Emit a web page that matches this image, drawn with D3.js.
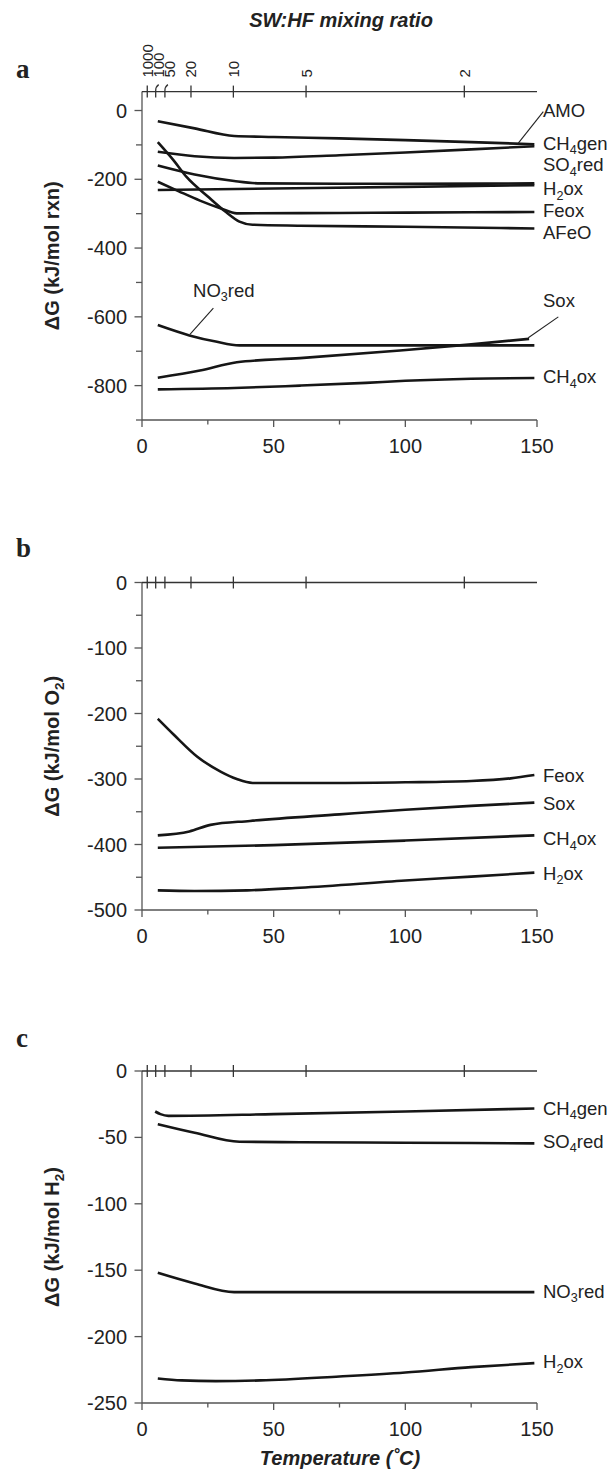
<!DOCTYPE html>
<html>
<head>
<meta charset="utf-8">
<script src="https://cdn.jsdelivr.net/npm/d3@7"></script>
<style>
body { margin: 0; background: #fff; }
svg { display: block; }
text { font-family: "Liberation Sans", Arial, Helvetica, sans-serif; fill: #222; }
</style>
</head>
<body>
<svg id="chart" width="613" height="1469"></svg>
<script>
// axe des températures (bas) et axe du mélange SW:HF (haut)
const tempTicks = [0, 25, 50, 75, 100, 125, 150];
const tempLabels = [0, 50, 100, 150];
const mixRatios = [1000, 100, 50, 20, 10, 5, 2];
const mixTemps = [2.0, 5.2, 8.7, 18.6, 34.7, 62.3, 122.4];

// panneau a : kJ/mol rxn  ([température, ΔG])
const aAMO = [[6, -31], [20, -52], [35, -74], [50, -77], [75, -81], [100, -86], [125, -92], [149, -98]];
const aCH4gen = [[6, -120], [20, -133], [35, -138], [50, -137], [75, -130], [100, -122], [125, -113], [149, -104]];
const aSO4red = [[6, -160], [20, -186], [35, -205], [45, -212], [75, -213], [100, -213], [149, -212]];
const aH2ox = [[6, -231], [50, -227], [100, -222], [149, -217]];
const aFeox = [[6, -207], [14, -235], [22, -262], [30, -285], [36, -299], [75, -298], [100, -297], [149, -295]];
const aAFeO = [[6, -92], [12, -145], [17, -194], [25, -250], [32, -296], [37, -323], [42, -332], [60, -335], [100, -338], [149, -343]];
const aNO3red = [[6, -624], [18, -654], [28, -672], [37, -683], [75, -683], [100, -683], [149, -683]];
const aSox = [[6, -777], [22, -756], [36, -732], [60, -720], [98, -698], [125, -680], [147, -664]];
const aCH4ox = [[6, -811], [35, -807], [60, -800], [85, -792], [100, -786], [125, -780], [149, -778]];

// panneau b : kJ/mol O2
const bFeox = [[6, -208], [12, -232], [21, -266], [30, -289], [36, -300], [42, -306], [75, -306], [100, -305], [125, -303], [140, -299], [149, -294]];
const bSox = [[6, -386], [18, -380], [26, -370], [41, -364], [75, -354], [100, -347], [125, -341], [149, -336]];
const bCH4ox = [[6, -405], [50, -401], [100, -394], [149, -386]];
const bH2ox = [[6, -470], [20, -471], [40, -470], [60, -466], [100, -455], [125, -449], [149, -443]];

// panneau c : kJ/mol H2
const cCH4gen = [[5, -30.5], [7, -32.5], [10, -33.8], [50, -32.5], [100, -30.5], [149, -28.2]];
const cSO4red = [[6, -40], [20, -46.5], [37, -53.3], [60, -53.6], [100, -54], [149, -54.5]];
const cNO3red = [[6, -152], [20, -160], [35, -166.5], [75, -166.5], [149, -166.5]];
const cH2ox = [[6, -231.5], [15, -233], [28, -233.5], [45, -233], [75, -230], [100, -227], [125, -223], [149, -220]];

// étiquettes des courbes (position verticale en unités ΔG)
const aLabels = ["AMO", "CH_4gen", "SO_4red", "H_2ox", "Feox", "AFeO", "Sox", "CH_4ox"];
const aLabelG = [0, -95, -158, -228, -292, -355, -553, -774];
const bLabels = ["Feox", "Sox", "CH_4ox", "H_2ox"];
const bLabelG = [-294, -337, -391, -444];
const cLabels = ["CH_4gen", "SO_4red", "NO_3red", "H_2ox"];
const cLabelG = [-28, -53, -166, -219];

// traits de rappel du panneau a
const aLeaders = [
  [[142.9, -95], [152.4, -3]],
  [[18.2, -651], [27.1, -575]],
  [[146.7, -661], [158.1, -600]]
];

const svg = d3.select("#chart");
const x = d3.scaleLinear().domain([0, 150]).range([142, 537]);

const panels = [
  {
    letter: "a", letterY: 78, domain: [-900, 55], range: [420, 91.6],
    major: [0, -200, -400, -600, -800], minor: [-100, -300, -500, -700, -900],
    title: "ΔG (kJ/mol rxn)",
    series: [aAMO, aCH4gen, aSO4red, aH2ox, aFeox, aAFeO, aNO3red, aSox, aCH4ox],
    labels: aLabels, labelG: aLabelG, leaders: aLeaders,
    extraLabel: { text: "NO_3red", t: 19.4, g: -522 }, mixLabels: true
  },
  {
    letter: "b", letterY: 557, domain: [-500, 0], range: [910, 582.5],
    major: [0, -100, -200, -300, -400, -500], minor: [-50, -150, -250, -350, -450],
    title: "ΔG (kJ/mol O_2)",
    series: [bFeox, bSox, bCH4ox, bH2ox],
    labels: bLabels, labelG: bLabelG, leaders: [], mixLabels: false
  },
  {
    letter: "c", letterY: 1047, domain: [-250, 0], range: [1403, 1071],
    major: [0, -50, -100, -150, -200, -250], minor: [],
    title: "ΔG (kJ/mol H_2)",
    series: [cCH4gen, cSO4red, cNO3red, cH2ox],
    labels: cLabels, labelG: cLabelG, leaders: [], mixLabels: false
  }
];

// écrit un texte avec indice ("CH_4gen" -> CH, 4 en indice, gen)
function richText(sel, str, size) {
  const parts = str.split("_");
  sel.append("tspan").text(parts[0]);
  for (let i = 1; i < parts.length; i++) {
    sel.append("tspan").attr("dy", size * 0.24).attr("font-size", size * 0.68).text(parts[i][0]);
    sel.append("tspan").attr("dy", -size * 0.24).text(parts[i].slice(1));
  }
  return sel;
}

const axisColor = "#555";

panels.forEach(function(p) {
  const y = d3.scaleLinear().domain(p.domain).range(p.range);
  const g = svg.append("g");
  const yTop = p.range[1];
  const yBot = p.range[0];

  // lettre du panneau
  g.append("text")
    .attr("x", 16).attr("y", p.letterY)
    .style("font-family", "'Liberation Serif', 'Times New Roman', serif")
    .style("font-weight", "bold").style("font-size", "27px")
    .text(p.letter);

  // axe vertical
  g.append("line").attr("x1", x(0)).attr("x2", x(0)).attr("y1", yTop).attr("y2", yBot)
    .attr("stroke", axisColor).attr("stroke-width", 1.3);

  // graduations y
  g.selectAll(".maj").data(p.major).enter().append("line")
    .attr("x1", x(0) - 7.5).attr("x2", x(0))
    .attr("y1", d => y(d)).attr("y2", d => y(d))
    .attr("stroke", axisColor).attr("stroke-width", 1.3);
  g.selectAll(".min").data(p.minor).enter().append("line")
    .attr("x1", x(0) - 6).attr("x2", x(0))
    .attr("y1", d => y(d)).attr("y2", d => y(d))
    .attr("stroke", axisColor).attr("stroke-width", 1.3);
  g.selectAll(".ylab").data(p.major).enter().append("text")
    .attr("x", x(0) - 15).attr("y", d => y(d) + 7)
    .attr("text-anchor", "end").style("font-size", "20px")
    .text(d => d);

  // titre de l'axe y
  const cy = (yTop + yBot) / 2;
  richText(g.append("text")
    .attr("transform", `translate(59,${cy}) rotate(-90)`)
    .attr("text-anchor", "middle")
    .style("font-size", "20px").style("font-weight", "bold"), p.title, 20);

  // axe des températures
  g.append("line").attr("x1", x(0)).attr("x2", x(150)).attr("y1", yBot).attr("y2", yBot)
    .attr("stroke", axisColor).attr("stroke-width", 1.3);
  g.selectAll(".xt").data(tempTicks).enter().append("line")
    .attr("x1", d => x(d)).attr("x2", d => x(d))
    .attr("y1", yBot).attr("y2", d => yBot + (tempLabels.includes(d) ? 7 : 4.5))
    .attr("stroke", axisColor).attr("stroke-width", 1.3);
  g.selectAll(".xl").data(tempLabels).enter().append("text")
    .attr("x", d => x(d)).attr("y", yBot + 33)
    .attr("text-anchor", "middle").style("font-size", "20px")
    .text(d => d);

  // axe du rapport de mélange (haut)
  g.append("line").attr("x1", x(0)).attr("x2", x(150)).attr("y1", yTop).attr("y2", yTop)
    .attr("stroke", "#333").attr("stroke-width", 1.3);
  mixTemps.forEach(function(t, i) {
    const px = x(t);
    if (p.mixLabels && (i === 1 || i === 2)) {
      g.append("path")
        .attr("d", `M${px},${yTop + 6} L${px},${yTop - 1} Q${px},${yTop - 5} ${px + 3},${yTop - 7}`)
        .attr("fill", "none").attr("stroke", "#333").attr("stroke-width", 1.3);
    } else {
      g.append("line").attr("x1", px).attr("x2", px).attr("y1", yTop - 6).attr("y2", yTop + 6)
        .attr("stroke", "#333").attr("stroke-width", 1.3);
    }
  });
  if (p.mixLabels) {
    let prev = -100;
    mixTemps.forEach(function(t, i) {
      const px = Math.max(x(t), prev + 11);
      prev = px;
      g.append("text")
        .attr("transform", `translate(${px + 5.5},${yTop - 14}) rotate(-90)`)
        .style("font-size", "15px")
        .text(mixRatios[i]);
    });
  }

  // courbes
  const line = d3.line()
    .x(d => x(d[0]))
    .y(d => y(d[1]))
    .curve(d3.curveMonotoneX);
  g.selectAll(".serie").data(p.series).enter().append("path")
    .attr("d", line)
    .attr("fill", "none").attr("stroke", "#161616")
    .attr("stroke-width", 2.6).attr("stroke-linecap", "butt");

  // traits de rappel
  g.selectAll(".lead").data(p.leaders).enter().append("path")
    .attr("d", d3.line().x(d => x(d[0])).y(d => y(d[1])))
    .attr("fill", "none").attr("stroke", "#222").attr("stroke-width", 1.1);

  // étiquettes
  p.labels.forEach(function(lab, i) {
    richText(g.append("text")
      .attr("x", x(150) + 6).attr("y", y(p.labelG[i]) + 6.5)
      .style("font-size", "18.5px"), lab, 18.5);
  });
  if (p.extraLabel) {
    richText(g.append("text")
      .attr("x", x(p.extraLabel.t)).attr("y", y(p.extraLabel.g) + 6.5)
      .style("font-size", "18.5px"), p.extraLabel.text, 18.5);
  }
});

// titres des axes horizontaux
svg.append("text")
  .attr("x", 341).attr("y", 27).attr("text-anchor", "middle")
  .style("font-size", "20px").style("font-weight", "bold").style("font-style", "italic")
  .text("SW:HF mixing ratio");
svg.append("text")
  .attr("x", 340).attr("y", 1465).attr("text-anchor", "middle")
  .style("font-size", "20px").style("font-weight", "bold").style("font-style", "italic")
  .text("Temperature (˚C)");
</script>
</body>
</html>
